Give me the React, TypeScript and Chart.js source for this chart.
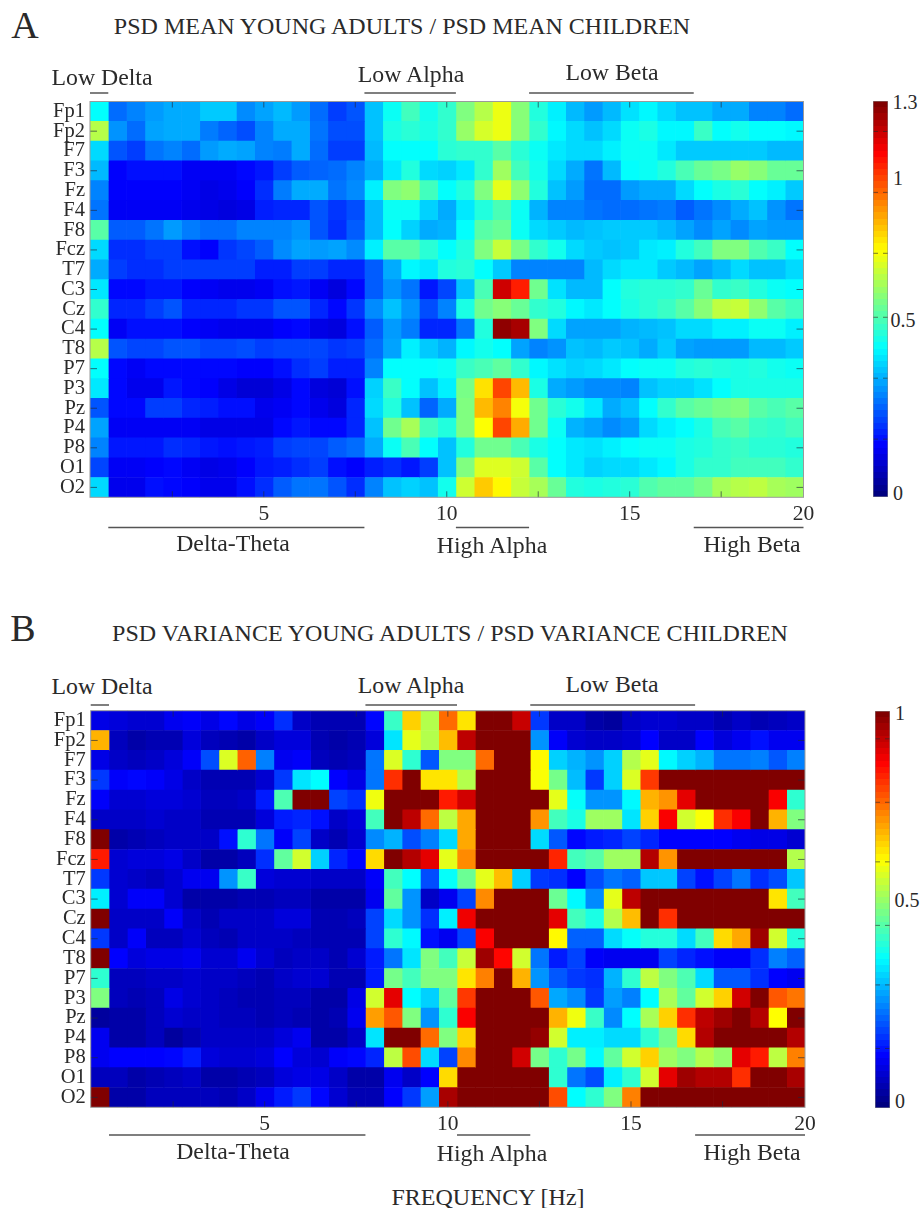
import React, { useEffect, useRef } from "react";
import { Chart, registerables } from "chart.js";
Chart.register(...registerables);

const channels = ["Fp1","Fp2","F7","F3","Fz","F4","F8","Fcz","T7","C3","Cz","C4","T8","P7","P3","Pz","P4","P8","O1","O2"];
const frequencies = [0.5,1,1.5,2,2.5,3,3.5,4,4.5,5,5.5,6,6.5,7,7.5,8,8.5,9,9.5,10,10.5,11,11.5,12,12.5,13,13.5,14,14.5,15,15.5,16,16.5,17,17.5,18,18.5,19,19.5];

const psdMeanRatio = [
[.49,.30,.33,.36,.38,.38,.42,.42,.34,.37, .40,.36,.30,.24,.27,.41,.50,.57,.51,.55, .65,.72,.79,.66,.53,.47,.40,.36,.40,.45, .48,.44,.41,.41,.38,.38,.33,.33,.30],
[.72,.35,.30,.37,.38,.38,.32,.29,.26,.33, .38,.38,.31,.26,.26,.41,.52,.54,.52,.55, .68,.76,.79,.66,.55,.48,.44,.41,.44,.50, .52,.48,.48,.56,.49,.51,.49,.49,.48],
[.44,.27,.24,.31,.33,.30,.36,.38,.37,.33, .32,.38,.30,.24,.24,.40,.49,.49,.49,.54, .55,.55,.60,.54,.50,.46,.44,.44,.47,.50, .50,.46,.42,.42,.42,.42,.42,.40,.40],
[.40,.16,.18,.18,.18,.15,.15,.15,.17,.19, .24,.28,.29,.30,.33,.38,.46,.53,.44,.43, .46,.55,.69,.57,.51,.44,.38,.31,.40,.49, .50,.53,.58,.62,.64,.68,.66,.62,.62],
[.33,.16,.16,.16,.16,.15,.13,.14,.16,.22, .32,.38,.38,.31,.34,.47,.65,.67,.57,.49, .53,.65,.78,.67,.53,.41,.36,.30,.30,.36, .38,.38,.44,.49,.52,.54,.49,.47,.42],
[.31,.15,.15,.15,.15,.14,.13,.12,.13,.20, .21,.21,.27,.23,.26,.40,.50,.50,.43,.38, .46,.53,.58,.50,.39,.33,.33,.31,.30,.30, .31,.32,.28,.31,.34,.38,.41,.35,.31],
[.60,.28,.28,.31,.36,.32,.30,.30,.33,.33, .33,.35,.27,.22,.28,.40,.49,.43,.38,.39, .49,.60,.62,.50,.44,.42,.40,.41,.42,.42, .42,.40,.37,.34,.37,.34,.37,.36,.36],
[.44,.22,.22,.24,.24,.18,.16,.23,.25,.28, .34,.37,.36,.37,.34,.47,.60,.60,.54,.49, .53,.65,.74,.64,.55,.51,.44,.42,.41,.42, .46,.47,.53,.57,.65,.65,.59,.56,.49],
[.38,.24,.22,.22,.24,.24,.24,.24,.24,.20, .20,.24,.24,.21,.21,.28,.38,.48,.46,.53, .54,.49,.42,.33,.33,.33,.33,.40,.44,.46, .46,.42,.40,.37,.40,.44,.41,.41,.44],
[.46,.17,.17,.19,.19,.16,.15,.14,.14,.15, .18,.19,.15,.12,.17,.28,.35,.31,.19,.25, .41,.58,1.2,1.1,.63,.45,.40,.40,.49,.53, .54,.54,.55,.62,.55,.56,.53,.50,.49],
[.55,.21,.21,.24,.27,.21,.21,.21,.23,.23, .27,.27,.21,.17,.23,.34,.41,.35,.26,.33, .52,.63,.66,.62,.55,.53,.48,.46,.49,.52, .54,.56,.60,.66,.73,.74,.67,.60,.57],
[.49,.15,.18,.18,.18,.16,.15,.14,.14,.14, .16,.17,.13,.12,.18,.28,.36,.32,.21,.21, .31,.53,1.28,1.25,.65,.44,.37,.37,.37,.39, .40,.41,.44,.44,.47,.47,.50,.50,.47],
[.72,.27,.25,.25,.27,.27,.25,.25,.26,.24, .25,.25,.25,.23,.24,.30,.37,.47,.42,.39, .48,.51,.49,.37,.33,.35,.41,.40,.42,.41, .38,.42,.37,.36,.36,.36,.40,.40,.42],
[.49,.17,.15,.17,.17,.17,.17,.17,.16,.16, .18,.22,.24,.20,.20,.33,.49,.49,.49,.50, .56,.58,.61,.55,.48,.45,.43,.44,.46,.49, .50,.50,.53,.54,.53,.52,.53,.51,.50],
[.46,.17,.14,.14,.19,.17,.16,.13,.11,.11, .13,.17,.12,.11,.18,.43,.56,.49,.41,.47, .64,.85,1.05,.90,.52,.38,.36,.34,.34,.33, .41,.43,.43,.45,.49,.52,.52,.52,.52],
[.27,.17,.17,.24,.24,.21,.20,.18,.18,.14, .15,.17,.14,.12,.21,.44,.53,.41,.29,.38, .65,.90,.97,.80,.63,.54,.51,.46,.38,.41, .49,.55,.60,.62,.64,.65,.60,.58,.60],
[.37,.15,.15,.15,.15,.15,.13,.13,.13,.13, .17,.19,.17,.17,.21,.41,.63,.70,.57,.53, .65,.81,1.05,.92,.63,.50,.39,.37,.34,.36, .44,.47,.49,.52,.58,.60,.56,.55,.57],
[.33,.19,.19,.19,.22,.21,.19,.18,.19,.20, .24,.25,.25,.28,.30,.38,.50,.58,.49,.41, .53,.63,.63,.58,.52,.49,.46,.45,.47,.49, .50,.50,.52,.53,.55,.56,.54,.54,.53],
[.25,.15,.15,.16,.17,.15,.13,.14,.16,.19, .20,.22,.24,.18,.16,.20,.22,.19,.24,.41, .65,.77,.77,.75,.60,.49,.46,.43,.44,.44, .46,.48,.52,.55,.55,.57,.57,.57,.55],
[.44,.14,.14,.18,.17,.16,.14,.14,.18,.22, .28,.31,.31,.27,.22,.33,.41,.43,.41,.51, .75,.88,.82,.74,.70,.62,.53,.52,.53,.54, .59,.61,.61,.64,.70,.72,.73,.70,.69],
];

const psdVarianceRatio = [
[.10,.09,.08,.08,.11,.12,.10,.13,.10,.12, .17,.07,.05,.05,.05,.13,.43,.67,.55,.77, .65,1,1,.93,.18,.07,.07,.04,.03,.07, .08,.08,.07,.07,.05,.07,.05,.06,.07],
[.70,.06,.04,.05,.05,.09,.06,.05,.04,.07, .09,.09,.05,.04,.05,.09,.35,.60,.55,.69, .94,1,1,1,.27,.12,.08,.07,.07,.08, .125,.07,.07,.125,.09,.11,.14,.11,.11],
[.10,.07,.06,.07,.09,.12,.20,.59,.78,.25, .11,.12,.06,.05,.06,.24,.59,.42,.21,.50, .50,.77,1,1,.63,.33,.30,.27,.33,.55, .60,.37,.33,.30,.24,.24,.25,.21,.25],
[.18,.12,.13,.12,.10,.07,.05,.05,.05,.08, .18,.35,.375,.125,.10,.24,.83,1,.65,.65, .55,1,1,1,.62,.49,.31,.18,.33,.59, .82,1,1,1,1,1,1,1,1],
[.12,.08,.08,.09,.09,.08,.06,.06,.07,.15, .45,1,1,.19,.17,.61,1,1,1,.85, .92,1,1,1,1,.60,.38,.27,.27,.37, .70,.73,.90,1,1,1,1,.88,.42],
[.07,.07,.07,.08,.07,.07,.05,.05,.05,.09, .15,.16,.14,.07,.09,.44,1,.94,.77,.56, .71,1,1,1,.73,.44,.40,.53,.53,.35, .67,.88,.58,.62,.83,.88,1,.70,.50],
[1,.04,.05,.06,.07,.07,.07,.14,.42,.24, .12,.19,.07,.05,.08,.26,.30,.20,.25,.34, .71,1,1,1,.34,.21,.13,.15,.16,.19, .16,.125,.125,.125,.125,.11,.10,.10,.08],
[.85,.08,.09,.09,.10,.07,.04,.04,.06,.17, .47,.58,.33,.16,.13,.66,1,.95,.90,.60, .74,1,1,1,1,.84,.44,.46,.53,.53, .95,.73,1,1,1,1,1,1,.55],
[.18,.08,.07,.06,.08,.11,.11,.27,.43,.09, .08,.08,.07,.07,.07,.12,.44,.375,.20,.38, .48,.60,.69,.33,.18,.17,.125,.20,.24,.22, .32,.32,.19,.14,.19,.24,.17,.20,.32],
[.36,.08,.12,.12,.08,.04,.04,.04,.05,.05, .06,.06,.04,.04,.04,.11,.47,.27,.07,.11, .19,.74,1,1,1,.48,.37,.26,.60,.94, 1,1,1,1,1,1,1,.65,.44],
[1,.07,.07,.07,.12,.07,.05,.07,.07,.07, .09,.09,.05,.05,.06,.19,.34,.27,.17,.36, .89,1,1,1,1,.90,.44,.40,.55,.69, 1,.83,1,1,1,1,1,1,1],
[.18,.07,.12,.06,.06,.08,.06,.05,.07,.07, .07,.06,.05,.05,.05,.19,.42,.37,.14,.11, .19,.88,1,1,1,.63,.22,.22,.34,.38, .41,.41,.34,.44,.66,.71,.97,.58,.41],
[1,.125,.09,.10,.10,.11,.08,.08,.11,.08, .06,.07,.07,.05,.08,.15,.24,.35,.50,.44, .57,.97,.87,.58,.24,.15,.19,.12,.11,.11, .11,.19,.16,.14,.12,.12,.17,.25,.22],
[.42,.06,.06,.07,.07,.08,.07,.07,.06,.05, .07,.08,.08,.05,.05,.15,.49,.44,.50,.50, .65,.75,1,.70,.27,.21,.18,.17,.30,.42, .56,.50,.45,.34,.21,.21,.17,.125,.11],
[.50,.06,.05,.06,.10,.08,.07,.06,.05,.05, .06,.06,.04,.04,.10,.58,.90,.375,.33,.47, .82,1,1,1,.79,.29,.26,.18,.28,.25, .375,.54,.47,.58,.67,.92,1,.79,.76],
[.03,.04,.04,.06,.08,.07,.07,.06,.06,.05, .06,.05,.04,.05,.11,.72,.79,.50,.27,.42, .88,1,1,1,1,.70,.61,.43,.26,.375, .54,.67,.83,.94,.97,1,.95,.625,1],
[.11,.04,.04,.06,.03,.05,.07,.07,.07,.07, .09,.11,.04,.04,.07,.35,1,1,.77,.50, .67,1,1,1,.98,.58,.36,.36,.34,.34, .42,.49,.66,.95,1,1,1,1,.95],
[.11,.125,.125,.125,.13,.15,.09,.08,.08,.09, .125,.09,.08,.12,.13,.16,.56,.80,.34,.19, .74,1,1,.92,.49,.42,.49,.37,.47,.58, .67,.53,.50,.55,.52,.90,.85,.56,.75],
[.06,.06,.04,.05,.06,.07,.04,.04,.05,.06, .09,.10,.10,.07,.04,.04,.11,.07,.125,.66, 1,1,1,1,1,.42,.24,.20,.36,.42, .58,.90,.97,.95,.95,.83,1,1,.96],
[1,.04,.04,.06,.06,.06,.06,.05,.07,.11, .15,.18,.13,.08,.05,.05,.125,.18,.28,.96, 1,1,1,1,1,.80,.375,.42,.50,.75, 1,1,1,1,1,1,1,1,1],
];

const xTickValues = [2.5,5,7.5,10,12.5,15,17.5];
const xTickLabels: Record<string,string> = { "5":"5", "10":"10", "15":"15", "19.75":"20" };
const bands = [[0.25,0.75,"top"],[0.75,7.75,"bottom"],[7.75,10.25,"top"],[10.25,12.25,"bottom"],[12.25,16.75,"top"],[16.75,19.75,"bottom"]] as const;
const meanBarTicks = [0.19,0.39,0.59,0.8,1,1.2];
const varianceBarTicks = [0.15,0.31,0.46,0.62,0.77,0.93];

const SERIF = "'Liberation Serif', 'Times New Roman', serif";
const INK = "#2a2a2a";

function jet(f: number): string {
  const c = (v: number) => Math.round(255 * Math.max(0, Math.min(1, v)));
  const t = Math.max(0, Math.min(1, f));
  const r = 1.5 - Math.abs(4 * t - 3);
  const g = 1.5 - Math.abs(4 * t - 2);
  const b = 1.5 - Math.abs(4 * t - 1);
  return `rgb(${c(r)},${c(g)},${c(b)})`;
}

const innerMarks = {
  id: "innerMarks",
  afterDatasetsDraw(chart: any, _a: any, o: any) {
    const { ctx, chartArea: a, scales } = chart;
    const x = scales.x;
    const y = scales.y;
    ctx.save();
    ctx.strokeStyle = "rgba(30,40,60,0.65)";
    ctx.lineWidth = 1;
    ctx.beginPath();
    xTickValues.forEach((v) => {
      const px = x.getPixelForValue(v);
      ctx.moveTo(px, a.top); ctx.lineTo(px, a.top + 6);
      ctx.moveTo(px, a.bottom); ctx.lineTo(px, a.bottom - 6);
    });
    channels.forEach((c, i) => {
      if (i % 2 === 0) return;
      const py = y.getPixelForValue(i);
      ctx.moveTo(a.left, py); ctx.lineTo(a.left + 7, py);
      ctx.moveTo(a.right, py); ctx.lineTo(a.right - 7, py);
    });
    ctx.stroke();
    ctx.strokeStyle = "#9a9a9a";
    ctx.strokeRect(a.left, a.top, a.right - a.left, a.bottom - a.top);
    ctx.strokeStyle = "#555";
    ctx.lineWidth = 1.6;
    ctx.beginPath();
    bands.forEach(([from, to, side]) => {
      const py = side === "top" ? o.topLine : o.bottomLine;
      ctx.moveTo(x.getPixelForValue(from), py);
      ctx.lineTo(x.getPixelForValue(to), py);
    });
    ctx.stroke();
    ctx.restore();
  },
};

function Heatmap({ rows, vmax, box, lines }: { rows: number[][]; vmax: number; box: any; lines: number[] }) {
  const ref = useRef<HTMLCanvasElement>(null);
  useEffect(() => {
    const chart = new Chart(ref.current!, {
      type: "bar",
      plugins: [innerMarks],
      data: {
        labels: channels,
        datasets: frequencies.map((f, col) => ({
          label: `${f} Hz`,
          data: channels.map(() => [f - 0.25, f + 0.25]),
          backgroundColor: rows.map((r) => jet(r[col] / vmax)),
          borderWidth: 0,
          grouped: false,
          barPercentage: 1,
          categoryPercentage: 1,
        })),
      } as any,
      options: {
        indexAxis: "y",
        animation: false,
        responsive: false,
        layout: { padding: { left: 0, top: box.pt, right: box.pr, bottom: 0 } },
        plugins: { legend: { display: false }, tooltip: { enabled: false }, innerMarks: { topLine: lines[0], bottomLine: lines[1] } },
        scales: {
          x: {
            type: "linear", min: 0.25, max: 19.75,
            afterBuildTicks(s: any) { s.ticks = [...xTickValues, 19.75].map((value) => ({ value })); },
            afterFit(s: any) { s.height = box.xh; },
            grid: { display: false, drawTicks: false }, border: { display: false },
            ticks: { autoSkip: false, maxRotation: 0, padding: 4, color: INK, font: { family: SERIF, size: 21.5 }, callback: (v: any) => xTickLabels[String(v)] ?? "" },
          },
          y: {
            type: "category", offset: true,
            afterFit(s: any) { s.width = box.yw; s.paddingTop = 0; s.paddingBottom = 0; },
            grid: { display: false, drawTicks: false }, border: { display: false },
            ticks: { autoSkip: false, padding: 5, color: INK, font: { family: SERIF, size: 20.5 } },
          },
        },
      } as any,
    });
    return () => chart.destroy();
  }, []);
  return <canvas ref={ref} width={box.w} height={box.h} style={{ position: "absolute", left: box.x, top: box.y, width: box.w, height: box.h }} />;
}

function ColorBar({ vmax, ticks, box }: { vmax: number; ticks: number[]; box: any }) {
  const ref = useRef<HTMLCanvasElement>(null);
  useEffect(() => {
    const tickMarks = {
      id: "barTicks",
      afterDatasetsDraw(chart: any) {
        const { ctx, chartArea: a, scales } = chart;
        ctx.save();
        ctx.strokeStyle = "rgba(40,40,40,0.6)";
        ctx.beginPath();
        ticks.forEach((t) => {
          const py = scales.y.getPixelForValue(t);
          ctx.moveTo(a.left, py); ctx.lineTo(a.left + 5, py);
          ctx.moveTo(a.right, py); ctx.lineTo(a.right - 5, py);
        });
        ctx.stroke();
        ctx.strokeStyle = "#8a8a8a";
        ctx.strokeRect(a.left, a.top, a.right - a.left, a.bottom - a.top);
        ctx.restore();
      },
    };
    const chart = new Chart(ref.current!, {
      type: "bar",
      plugins: [tickMarks],
      data: {
        labels: [""],
        datasets: [{
          data: [[0, vmax]],
          barPercentage: 1, categoryPercentage: 1, borderWidth: 0,
          backgroundColor(c: any) {
            const a = c.chart.chartArea;
            if (!a) return "#000";
            const g = c.chart.ctx.createLinearGradient(0, a.bottom, 0, a.top);
            for (let s = 0; s < 64; s++) {
              g.addColorStop(s / 64, jet(s / 63));
              g.addColorStop((s + 1) / 64, jet(s / 63));
            }
            return g;
          },
        }],
      } as any,
      options: {
        animation: false, responsive: false,
        layout: { padding: 0 },
        plugins: { legend: { display: false }, tooltip: { enabled: false } },
        scales: { x: { display: false }, y: { display: false, min: 0, max: vmax } },
      } as any,
    });
    return () => chart.destroy();
  }, []);
  return <canvas ref={ref} width={box.w} height={box.h} style={{ position: "absolute", left: box.x, top: box.y, width: box.w, height: box.h }} />;
}

const texts: [string, number, number, number][] = [
  ["A", 25, 25, 38],
  ["PSD MEAN YOUNG ADULTS / PSD MEAN CHILDREN", 402, 26, 24],
  ["Low Delta", 102, 78, 23.8],
  ["Low Alpha", 411, 75, 23.8],
  ["Low Beta", 612, 73, 23.8],
  ["Delta-Theta", 233, 544, 23.8],
  ["High Alpha", 492, 546, 23.8],
  ["High Beta", 752, 545, 23.8],
  ["1.3", 905, 102, 20],
  ["1", 898, 178, 20],
  ["0.5", 903, 320, 20],
  ["0", 898, 493, 20],
  ["B", 23, 628, 38],
  ["PSD VARIANCE YOUNG ADULTS / PSD VARIANCE CHILDREN", 450, 633, 24],
  ["Low Delta", 102, 687, 23.8],
  ["Low Alpha", 411, 686, 23.8],
  ["Low Beta", 612, 685, 23.8],
  ["Delta-Theta", 233, 1152, 23.8],
  ["High Alpha", 492, 1154, 23.8],
  ["High Beta", 752, 1153, 23.8],
  ["1", 900, 713, 20],
  ["0.5", 907, 900, 20],
  ["0", 900, 1101, 20],
  ["FREQUENCY [Hz]", 488, 1197, 24],
];

export default function App() {
  return (
    <div style={{ position: "absolute", left: 0, top: 0, width: 921, height: 1208, background: "#fff", overflow: "hidden", filter: "blur(0.5px)" }}>
      <Heatmap rows={psdMeanRatio} vmax={1.3} lines={[3, 437.5]} box={{ x: 40, y: 90, w: 790, h: 445, pt: 11.5, pr: 26.5, xh: 37.7, yw: 50 }} />
      <Heatmap rows={psdVarianceRatio} vmax={1} lines={[5, 435]} box={{ x: 40, y: 700, w: 790, h: 445, pt: 10.7, pr: 25, xh: 37.7, yw: 50.7 }} />
      <ColorBar vmax={1.3} ticks={meanBarTicks} box={{ x: 873, y: 101, w: 15, h: 396 }} />
      <ColorBar vmax={1} ticks={varianceBarTicks} box={{ x: 875, y: 711, w: 15, h: 397 }} />
      {texts.map(([t, x, y, s], i) => (
        <div key={i} style={{ position: "absolute", left: x, top: y, transform: "translate(-50%,-50%)", fontFamily: SERIF, fontSize: s, color: INK, whiteSpace: "nowrap", lineHeight: 1 }}>{t}</div>
      ))}
    </div>
  );
}
